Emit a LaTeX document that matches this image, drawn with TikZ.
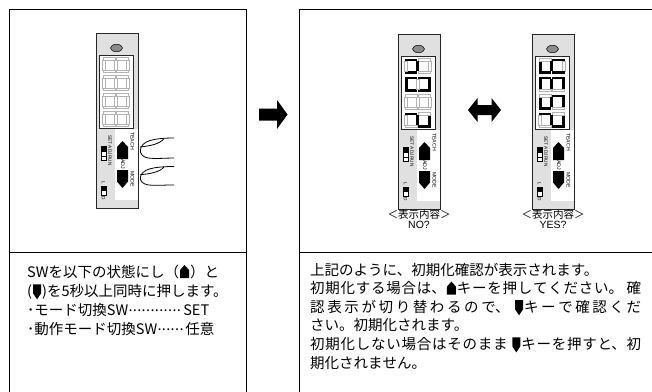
\documentclass[tikz,border=0pt]{standalone}
\usepackage{fontspec}
\usepackage{pict2e}
\setmainfont{Noto Sans CJK JP}
\newfontfamily\latinsans{Liberation Sans}
\XeTeXlinebreaklocale "ja"
\XeTeXlinebreakskip=0pt plus 4pt
\newcommand\upicon{\raisebox{-1pt}{\setlength\unitlength{1pt}\begin{picture}(11,13)\polygon*(1,0)(10,0)(10,8)(5.5,13)(1,8)\end{picture}}}
\newcommand\downicon{\raisebox{-3pt}{\setlength\unitlength{1pt}\begin{picture}(10,15)\polygon*(1,15)(9,15)(9,6)(5,0)(1,6)\end{picture}}}
\newcommand\dotrun[1]{\raisebox{4.3pt}{\makebox[#1]{\leaders\hbox to 4.4pt{\hss.\hss}\hfill}}}
\newcommand\segrect[5]{\ifnum#1=1\relax\path[seglit] (#2,#3) rectangle (#4,#5);\else\path[segoff] (#2,#3) rectangle (#4,#5);\fi}
\def\segparse#1#2#3#4#5#6#7\relax{%
  \segrect{#1}{23.5}{2.5}{26.5}{12.5}%
  \segrect{#2}{13.8}{12.5}{26}{15}%
  \segrect{#3}{0.5}{12.5}{12.7}{15}%
  \segrect{#4}{0}{2.5}{3}{12.5}%
  \segrect{#5}{0.5}{0}{12.7}{2.5}%
  \segrect{#6}{13.8}{0}{26}{2.5}%
  \segrect{#7}{11.75}{2.5}{14.75}{12.5}}
\newcommand\segdigit[3]{\begin{scope}[shift={(#1,#2)}]\segparse#3\relax\end{scope}}
\newcommand\device[7]{%
\begin{scope}[shift={(#2,#3)}]
\path[devbody] (0,0) rectangle (42,175);
\path[fill=black!45, draw=black, line width=0.5pt] (20.5,15) ellipse [x radius=6, y radius=3.7];
\path[fill=white, draw=black!85, line width=0.9pt] (3,22) rectangle (37,95);
\segdigit{6.5}{24.5}{#4}
\segdigit{6.5}{42.5}{#5}
\segdigit{6.5}{60.5}{#6}
\segdigit{6.5}{78.5}{#7}
\path[fill=white] (19,95.5) rectangle (41.5,167);
\path[btn] (21,126) -- (21,114) -- (26.5,108) -- (32,114) -- (32,126) -- cycle;
\path[btn] (21,137) -- (32,137) -- (32,148.5) -- (26.5,155) -- (21,148.5) -- cycle;
\node[devlabel, rotate=-90, anchor=west] (#1-teach) at (36.5,99) {TEACH};
\node[devlabel, rotate=-90] (#1-adj) at (27,131) {ADJ};
\node[devlabel, rotate=-90, anchor=west] (#1-mode) at (36.5,138) {MODE};
\node[devlabelsmall, rotate=-90, anchor=west] (#1-sar) at (14,102) {SET\,\,ADJ\,RUN};
\path[fill=white, draw=black, line width=0.5pt] (5,113.5) rectangle (10,127);
\path[fill=black] (5,113.5) rectangle (10,118.5);
\draw[line width=0.4pt] (5,122.7) -- (10,122.7);
\node[devlabelsmall, rotate=-90] (#1-l) at (7.5,150) {L};
\path[fill=white, draw=black, line width=0.5pt] (5.5,153) rectangle (10,162);
\path[fill=black] (6,153.5) rectangle (9.5,157.5);
\node[devlabelsmall, rotate=-90] (#1-d) at (7.5,165.5) {D};
\end{scope}}
\newcommand\fingershape{%
 \draw[finger] (174,0) .. controls (163,0) and (155,1) .. (150,2.5) .. controls (138,6) and (137,18) .. (148,20) .. controls (156,21) and (166,20) .. (174,20);
 \draw[finger] (164,0.6) .. controls (160,6) and (150,8) .. (139.8,9);}
\tikzset{
 panel/.style={draw=black, line width=1pt},
 devbody/.style={fill=black!12, draw=black!85, line width=1pt},
 seglit/.style={fill=black},
 segoff/.style={fill=white, draw=black!30, line width=0.35pt},
 devlabel/.style={font=\latinsans\fontsize{5.2}{5.5}\selectfont, inner sep=0pt},
 devlabelsmall/.style={font=\latinsans\fontsize{4.7}{5}\selectfont, inner sep=0pt},
 finger/.style={draw=black, line width=0.8pt},
 btn/.style={fill=black},
 capjp/.style={font=\fontsize{10.5}{11}\selectfont, inner sep=0pt},
 caplat/.style={font=\latinsans\fontsize{10.5}{11}\selectfont, inner sep=0pt},
}
\begin{document}
\begin{tikzpicture}[x=1pt,y=-1pt]
\useasboundingbox (0,0) rectangle (652,391);
% panels
\draw[panel] (9,400) -- (9,9) -- (246,9) -- (246,400);
\draw[panel] (9,252) -- (246,252);
\draw[panel] (299,400) -- (299,9) -- (660,9);
\draw[panel] (299,252) -- (660,252);
% left device
\device{dl}{96}{33}{0000000}{0000000}{0000000}{0000000}
% fingers
\begin{scope}[shift={(0,138)}]
 \fingershape
\end{scope}
\begin{scope}[shift={(0,166.5)},yscale=0.92]
 \fingershape
\end{scope}
% arrow between panels
\fill (259,108.5) -- (277,108.5) -- (277,100) -- (287.5,114.5) -- (277,129) -- (277,120.5) -- (259,120.5) -- cycle;
% right devices
\device{dn}{398}{34}{0010101}{1111110}{0000000}{1100101}
\device{dy}{532}{34}{0111011}{1001111}{1011011}{1100101}
% double arrow
\fill (468,110) -- (477.5,98) -- (477.5,105) -- (491.5,105) -- (491.5,98) -- (501,110) -- (491.5,122) -- (491.5,115) -- (477.5,115) -- (477.5,122) -- cycle;
% captions
\node[capjp] (cap1) at (419,214.5) {＜表示内容＞};
\node[caplat] (no) at (419,224.5) {NO?};
\node[capjp] (cap2) at (553,214.5) {＜表示内容＞};
\node[caplat] (yes) at (553,224.5) {YES?};
% texts
\node[anchor=base west, inner sep=0pt] (ltext) at (27,277) {\parbox[t]{215pt}{\fontsize{14.5}{19.3}\selectfont\raggedright
SWを以下の状態にし（\upicon）と\\
(\downicon)を5秒以上同時に押します。\\
･モード切換SW\dotrun{55pt}SET\\
･動作モード切換SW\dotrun{28pt}任意}};
\node[anchor=base west, inner sep=0pt] (rtext) at (310,275) {\parbox[t]{331pt}{\fontsize{14.5}{18.6}\selectfont
上記のように、初期化確認が表示されます。\\
初期化する場合は、\upicon キーを押してください。 確\linebreak
認表示が切り替わるので、 \downicon キーで確認くだ\linebreak
さい。初期化されます。\\
初期化しない場合はそのまま \downicon キーを押すと、初\linebreak
期化されません。}};
\end{tikzpicture}
\end{document}
